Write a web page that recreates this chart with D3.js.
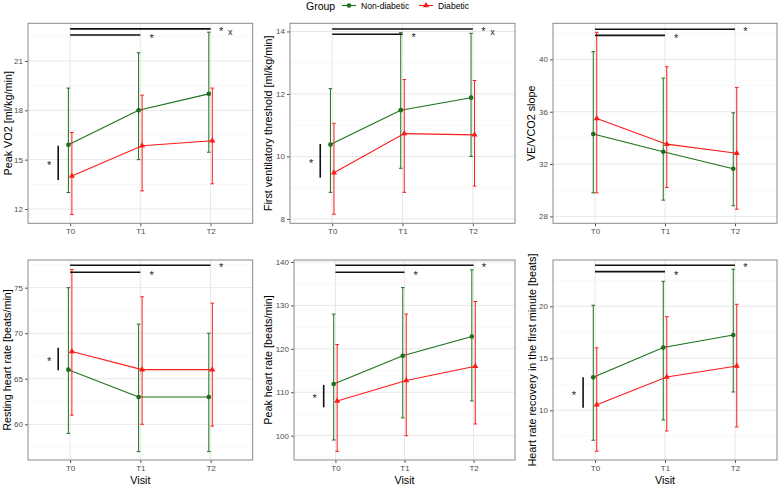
<!DOCTYPE html>
<html><head><meta charset="utf-8">
<script src="https://cdn.jsdelivr.net/npm/d3@7"></script>
<style>
body{margin:0;background:#fff;}
text{font-family:"Liberation Sans",Arial,Helvetica,sans-serif;}
</style></head>
<body><svg id="c" width="779" height="486"></svg>
<script>
const visits = ["T0","T1","T2"];
const groups = ["Non-diabetic","Diabetic"];
const yTitles = ["Peak VO2 [ml/kg/min]","First ventilatory threshold [ml/kg/min]","VE/VCO2 slope",
  "Resting heart rate [beats/min]","Peak heart rate [beats/min]","Heart rate recovery in the first minute [beats]"];
const nonDiabMean = [[15.9,18.0,19.0],[10.38,11.48,11.88],[34.29,32.94,31.64],[66,63,63],[111.9,118.4,122.85],[13.17,16.03,17.24]];
const nonDiabLow  = [[13.0,15.0,15.45],[8.85,9.62,10.0],[29.8,29.24,28.81],[59,57,57],[99,104.1,108],[7.12,9.07,11.76]];
const nonDiabHigh = [[19.35,21.5,22.75],[12.17,13.96,13.94],[40.59,38.57,35.92],[75,71,70],[128,134.1,138.2],[20.1,22.4,23.56]];
const diabMean = [[14.0,15.85,16.15],[9.48,10.73,10.69],[35.49,33.52,32.83],[68,66,66],[108,112.7,116],[10.54,13.2,14.26]];
const diabLow  = [[11.67,13.1,13.53],[8.15,8.85,9.05],[29.8,30.21,28.55],[61,60,59.8],[96.4,100,102.7],[6.06,8.01,8.4]];
const diabHigh = [[16.65,18.92,19.35],[11.06,12.46,12.43],[42.07,39.44,37.86],[77,74,73.3],[121,128,130.9],[16.0,19.0,20.19]];
const yDomains = [[11.13,23.29],[7.86,14.26],[27.47,42.76],[56.08,78.04],[94.4,140.46],[5.22,24.45]];
const yTicks = [[12,15,18,21],[8,10,12,14],[28,32,36,40],[60,65,70,75],[100,110,120,130,140],[10,15,20]];
const sigLongY  = [22.95,14.08,42.30,77.46,139.24,23.94];
const sigShortY = [22.58,13.91,41.84,76.69,137.63,23.33];
const sigLongX  = [true,true,false,false,false,false];
const groupDiff = [[13.77,15.85],[9.32,10.40],null,[65.93,68.41],[106.54,111.67],[10.25,13.17]];

// layout
const panels = [
  {l:28,r:252.7,t:23.3,b:223.3,tx:7.5},
  {l:290,r:515,t:23.3,b:223.3,tx:268},
  {l:553,r:777,t:23.3,b:223.3,tx:531},
  {l:28,r:252.7,t:260,b:460,tx:7},
  {l:294,r:515,t:260,b:460,tx:267.5},
  {l:553,r:777,t:260,b:460,tx:531.5}
];
const GREEN = "#1c701c", RED = "#ff1a1a";
const svg = d3.select("#c");

panels.forEach((p,i)=>{
  const g = svg.append("g");
  const x = d3.scalePoint().domain(visits).range([p.l,p.r]).padding(0.6);
  const y = d3.scaleLinear().domain(yDomains[i]).range([p.b,p.t]);
  const st = x.step();
  const ticks = yTicks[i];
  const half = (ticks[1]-ticks[0])/2;
  const minors = [];
  for (let v = ticks[0]-half; v <= yDomains[i][1]; v += 2*half) if (v>=yDomains[i][0]) minors.push(v);
  // grid
  g.selectAll(".mn").data(minors).join("line").attr("x1",p.l).attr("x2",p.r)
    .attr("y1",d=>y(d)).attr("y2",d=>y(d)).attr("stroke","#f3f3f3").attr("stroke-width",0.7);
  g.selectAll(".mj").data(ticks).join("line").attr("x1",p.l).attr("x2",p.r)
    .attr("y1",d=>y(d)).attr("y2",d=>y(d)).attr("stroke","#e8e8e8").attr("stroke-width",1);
  g.selectAll(".mx").data(visits).join("line").attr("y1",p.t).attr("y2",p.b)
    .attr("x1",d=>x(d)).attr("x2",d=>x(d)).attr("stroke","#e8e8e8").attr("stroke-width",1);
  // axes
  const ay = g.append("g").attr("transform",`translate(${p.l},0)`)
    .call(d3.axisLeft(y).tickValues(ticks).tickFormat(d3.format("d")).tickSize(3).tickPadding(2));
  const ax = g.append("g").attr("transform",`translate(0,${p.b})`)
    .call(d3.axisBottom(x).tickSize(3).tickPadding(2));
  [ay,ax].forEach(a=>{
    a.select(".domain").remove();
    a.selectAll(".tick line").attr("stroke","#555");
    a.selectAll(".tick text").attr("fill","#4d4d4d").style("font-size","8px").style("font-family","Liberation Sans, Arial, sans-serif");
  });
  // border
  g.append("rect").attr("x",p.l).attr("y",p.t).attr("width",p.r-p.l).attr("height",p.b-p.t)
    .attr("fill","none").attr("stroke","#8a8a8a").attr("stroke-width",1);
  // y title
  g.append("text").attr("transform",`translate(${p.tx},${(p.t+p.b)/2}) rotate(-90)`)
    .attr("text-anchor","middle").attr("dominant-baseline","central")
    .style("font-size","10.8px").attr("fill","#000").text(yTitles[i]);
  if (i>=3) g.append("text").attr("x",(p.l+p.r)/2).attr("y",484).attr("text-anchor","middle")
    .style("font-size","10.8px").text("Visit");
  // series
  const series = [
    {mean:nonDiabMean[i],lo:nonDiabLow[i],hi:nonDiabHigh[i],col:GREEN,off:-0.025,shape:"circle"},
    {mean:diabMean[i],lo:diabLow[i],hi:diabHigh[i],col:RED,off:0.025,shape:"triangle"}
  ];
  series.forEach(s=>{
    const pts = visits.map((v,k)=>({x:x(v)+s.off*st, m:s.mean[k], lo:s.lo[k], hi:s.hi[k]}));
    const eb = g.append("g");
    eb.selectAll("line.v").data(pts).join("line").attr("x1",d=>d.x).attr("x2",d=>d.x)
      .attr("y1",d=>y(d.lo)).attr("y2",d=>y(d.hi)).attr("stroke",s.col).attr("stroke-width",1);
    ["lo","hi"].forEach(k=>{
      eb.selectAll("line."+k).data(pts).join("line").attr("x1",d=>d.x-1.8).attr("x2",d=>d.x+1.8)
        .attr("y1",d=>y(d[k])).attr("y2",d=>y(d[k])).attr("stroke",s.col).attr("stroke-width",1);
    });
    g.append("path").datum(pts).attr("fill","none").attr("stroke",s.col).attr("stroke-width",1.1)
      .attr("d",d3.line().x(d=>d.x).y(d=>y(d.m)));
    const sym = d3.symbol().type(s.shape==="circle"?d3.symbolCircle:d3.symbolTriangle).size(s.shape==="circle"?17:16);
    g.selectAll(null).data(pts).join("path").attr("transform",d=>`translate(${d.x},${y(d.m)})`)
      .attr("d",sym).attr("fill",s.col);
  });
  // significance annotations
  const sg = g.append("g");
  sg.append("line").attr("x1",x("T0")).attr("x2",x("T2")).attr("y1",y(sigLongY[i])).attr("y2",y(sigLongY[i]))
    .attr("stroke","#111").attr("stroke-width",1.6);
  sg.append("line").attr("x1",x("T0")).attr("x2",x("T1")).attr("y1",y(sigShortY[i])).attr("y2",y(sigShortY[i]))
    .attr("stroke","#111").attr("stroke-width",1.6);
  const star = (cx,cy)=>sg.append("text").attr("x",cx).attr("y",cy+6).attr("text-anchor","middle")
    .style("font-size","11px").attr("fill","#222").text("*");
  star(x("T1")+0.16*st, y(sigShortY[i])+1);
  star(x("T2")+0.15*st, y(sigLongY[i]));
  if (sigLongX[i]) sg.append("text").attr("x",x("T2")+0.28*st).attr("y",y(sigLongY[i])+5.8)
    .attr("text-anchor","middle").style("font-size","9px").attr("fill","#222").text("x");
  if (groupDiff[i]) {
    const gd = groupDiff[i];
    sg.append("line").attr("x1",x("T0")-0.17*st).attr("x2",x("T0")-0.17*st)
      .attr("y1",y(gd[0])).attr("y2",y(gd[1])).attr("stroke","#111").attr("stroke-width",1.6);
    star(x("T0")-0.30*st, y((gd[0]+gd[1])/2));
  }
});

// legend
const lg = svg.append("g");
lg.append("text").attr("x",306).attr("y",9.5).style("font-size","10.5px").text("Group");
const keys = [{x:342,col:GREEN,sym:d3.symbolCircle,label:groups[0]},{x:419,col:RED,sym:d3.symbolTriangle,label:groups[1]}];
keys.forEach(k=>{
  lg.append("line").attr("x1",k.x).attr("x2",k.x+14).attr("y1",5.5).attr("y2",5.5).attr("stroke",k.col).attr("stroke-width",1.1);
  lg.append("path").attr("transform",`translate(${k.x+7},5.5)`).attr("d",d3.symbol().type(k.sym).size(17)).attr("fill",k.col);
  lg.append("text").attr("x",k.x+19).attr("y",8.6).style("font-size","8.6px").text(k.label);
});
</script></body></html>
